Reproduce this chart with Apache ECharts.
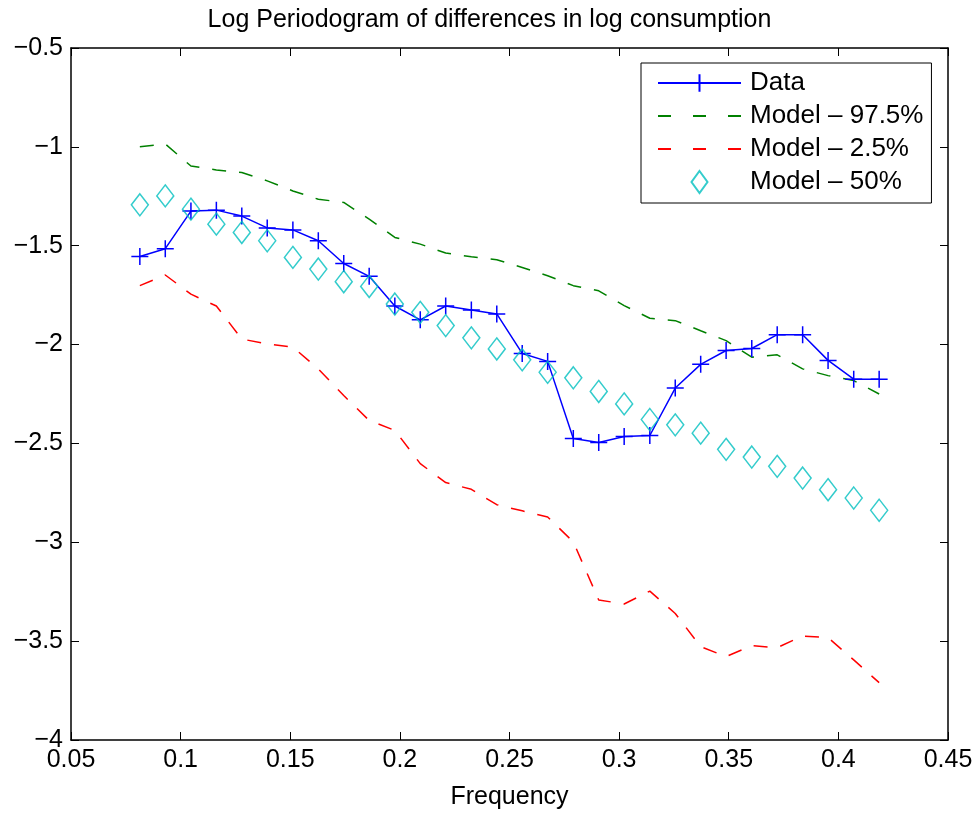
<!DOCTYPE html>
<html>
<head>
<meta charset="utf-8">
<script src="https://cdn.jsdelivr.net/npm/echarts@6/dist/echarts.min.js"></script>
<style>
  html, body { margin: 0; padding: 0; background: #fff; }
  #main { width: 979px; height: 815px; }
</style>
</head>
<body>
<div id="main"></div>
<script>
// frequencies of the periodogram ordinates
var freq = [0.0814, 0.0930, 0.1047, 0.1163, 0.1279, 0.1395, 0.1512, 0.1628, 0.1744, 0.1860,
            0.1977, 0.2093, 0.2209, 0.2326, 0.2442, 0.2558, 0.2674, 0.2791, 0.2907, 0.3023,
            0.3140, 0.3256, 0.3372, 0.3488, 0.3605, 0.3721, 0.3837, 0.3953, 0.4070, 0.4186];

var dataVals = [-1.555, -1.515, -1.325, -1.32, -1.35, -1.41, -1.42, -1.475, -1.59, -1.655,
                -1.805, -1.875, -1.805, -1.825, -1.845, -2.045, -2.085, -2.475, -2.495, -2.465,
                -2.46, -2.22, -2.10, -2.03, -2.02, -1.95, -1.95, -2.08, -2.175, -2.175];

var upper = [-0.999, -0.985, -1.097, -1.117, -1.13, -1.172, -1.223, -1.265, -1.281, -1.366,
             -1.458, -1.492, -1.537, -1.556, -1.571, -1.61, -1.652, -1.702, -1.728, -1.803,
             -1.867, -1.879, -1.93, -1.98, -2.064, -2.052, -2.123, -2.157, -2.182, -2.25];

var lower = [-1.702, -1.648, -1.745, -1.805, -1.972, -1.997, -2.013, -2.123, -2.258, -2.384,
             -2.434, -2.602, -2.698, -2.732, -2.81, -2.841, -2.872, -2.998, -3.292, -3.312,
             -3.247, -3.36, -3.528, -3.578, -3.523, -3.533, -3.474, -3.482, -3.595, -3.71];

var median = [-1.293, -1.248, -1.315, -1.391, -1.433, -1.475, -1.559, -1.618, -1.682, -1.706,
              -1.795, -1.837, -1.904, -1.966, -2.022, -2.077, -2.14, -2.168, -2.237, -2.30,
              -2.379, -2.406, -2.448, -2.53, -2.569, -2.616, -2.675, -2.734, -2.776, -2.838];

var seriesNames = ['Data', 'Model \u2013 97.5%', 'Model \u2013 2.5%', 'Model \u2013 50%'];

function pairs(ys) {
    var out = [];
    for (var i = 0; i < freq.length; i++) {
        out.push([freq[i], ys[i]]);
    }
    return out;
}

var FONT = '"Liberation Sans", Arial, Helvetica, sans-serif';
var plusSym = 'path://M10,0L10,20M0,10L20,10';
var diamondSym = 'path://M8,0L16,11L8,22L0,11Z';

var tickAxis = function (pos, isX, showLabel) {
    var ax = {
        type: 'value',
        position: pos,
        min: isX ? 0.05 : -4,
        max: isX ? 0.45 : -0.5,
        interval: isX ? 0.05 : 0.5,
        axisLine: { show: true, onZero: false, lineStyle: { color: '#000', width: 1.5 } },
        axisTick: { show: true, inside: true, length: 8, lineStyle: { color: '#000', width: 1 } },
        splitLine: { show: false },
        axisLabel: {
            show: showLabel,
            color: '#000',
            fontSize: 25,
            fontFamily: FONT,
            margin: 8,
            formatter: function (v) {
                if (isX) return String(+v.toFixed(2));
                return String(+v.toFixed(1)).replace('-', '\u2212');
            }
        }
    };
    return ax;
};

var xBottom = tickAxis('bottom', true, true);
xBottom.name = 'Frequency';
xBottom.nameLocation = 'middle';
xBottom.nameGap = 45;
xBottom.nameTextStyle = { color: '#000', fontSize: 25, fontFamily: FONT };

var legendDash = { type: [13, 22] };
var hiddenDot = { color: 'rgba(0,0,0,0)', borderWidth: 0 };

var myChart = echarts.init(document.getElementById('main'));
myChart.setOption({
    animation: false,
    backgroundColor: '#fff',
    title: {
        text: 'Log Periodogram of differences in log consumption',
        left: 'center',
        top: 3,
        textStyle: { color: '#000', fontSize: 25, fontWeight: 'normal', fontFamily: FONT }
    },
    grid: { left: 71, right: 31, top: 48, bottom: 73 },
    legend: {
        orient: 'vertical',
        left: 641,
        top: 63,
        backgroundColor: '#fff',
        borderColor: '#000',
        borderWidth: 1,
        padding: [7, 8, 8, 16],
        itemWidth: 83,
        itemHeight: 22,
        itemGap: 7,
        selectedMode: false,
        textStyle: { color: '#000', fontSize: 26, fontFamily: FONT, lineHeight: 26, padding: [0, 0, 0, 4] },
        data: [
            { name: seriesNames[0] },
            { name: seriesNames[1], itemStyle: hiddenDot, lineStyle: legendDash },
            { name: seriesNames[2], itemStyle: hiddenDot, lineStyle: legendDash },
            { name: seriesNames[3], icon: diamondSym }
        ]
    },
    xAxis: [xBottom, tickAxis('top', true, false)],
    yAxis: [tickAxis('left', false, true), tickAxis('right', false, false)],
    series: [
        {
            name: seriesNames[0],
            type: 'line',
            data: pairs(dataVals),
            color: '#0000ff',
            symbol: plusSym,
            symbolSize: 17,
            showSymbol: true,
            lineStyle: { color: '#0000ff', width: 1.5 },
            itemStyle: { color: '#0000ff', borderColor: '#0000ff', borderWidth: 1.5 },
            z: 3
        },
        {
            name: seriesNames[1],
            type: 'line',
            data: pairs(upper),
            color: '#008000',
            symbol: 'circle',
            showSymbol: false,
            lineStyle: { color: '#008000', width: 1.5, type: [14, 13] },
            z: 2
        },
        {
            name: seriesNames[2],
            type: 'line',
            data: pairs(lower),
            color: '#ff0000',
            symbol: 'circle',
            showSymbol: false,
            lineStyle: { color: '#ff0000', width: 1.5, type: [14, 13] },
            z: 2
        },
        {
            name: seriesNames[3],
            type: 'scatter',
            data: pairs(median),
            symbol: diamondSym,
            symbolSize: [17, 22],
            symbolKeepAspect: false,
            itemStyle: { color: 'rgba(0,0,0,0)', borderColor: '#00bfbf', borderWidth: 1.5 },
            z: 4
        }
    ]
});

window.addEventListener('resize', function () {
    myChart.resize();
});
</script>
</body>
</html>
